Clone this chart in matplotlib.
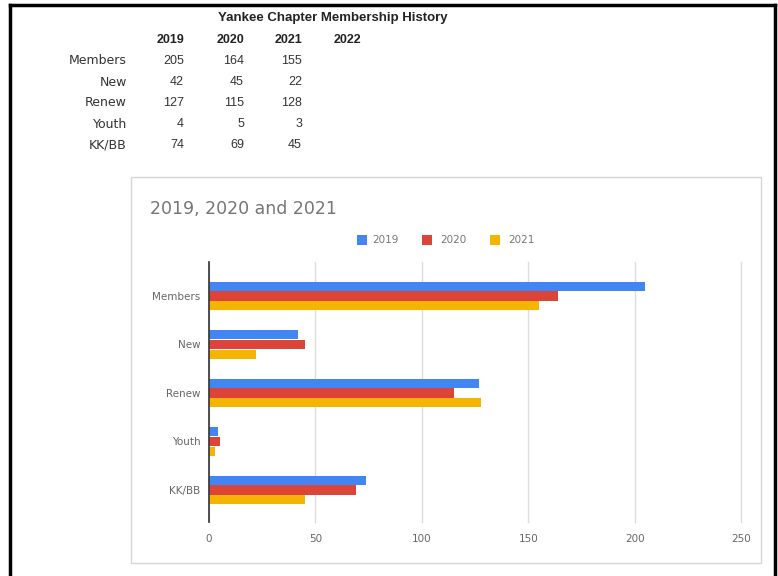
import matplotlib
matplotlib.use("Agg")
import matplotlib.pyplot as plt
from matplotlib.patches import Rectangle
from matplotlib.lines import Line2D
import numpy as np

categories = ["Members", "New", "Renew", "Youth", "KK/BB"]
years = ["2019", "2020", "2021"]
table_years = ["2019", "2020", "2021", "2022"]
v2019 = [205, 42, 127, 4, 74]
v2020 = [164, 45, 115, 5, 69]
v2021 = [155, 22, 128, 3, 45]
series = [v2019, v2020, v2021]
colors = ["#4285F4", "#DB4437", "#F4B400"]
xticks = [0, 50, 100, 150, 200, 250]

W, H = 778, 576
fig = plt.figure(figsize=(W / 100, H / 100), dpi=100)
fig.patch.set_facecolor("white")

def px(x, y):
    return x / W, 1 - y / H

# outer black border
fig.add_artist(Line2D([10 / W, 10 / W], [0, 1 - 5 / H], color="black", lw=2.5, transform=fig.transFigure))
fig.add_artist(Line2D([10 / W, 775 / W], [1 - 5 / H, 1 - 5 / H], color="black", lw=2.5, transform=fig.transFigure))
fig.add_artist(Line2D([775 / W, 775 / W], [0, 1 - 5 / H], color="black", lw=2.5, transform=fig.transFigure))

# table
tfont = "Liberation Sans"
fig.text(*px(333, 18), "Yankee Chapter Membership History", ha="center", va="center",
         fontsize=9.5, fontweight="bold", family=tfont, color="#222222")
col_x = [184, 244, 302, 361]
for cx, yr in zip(col_x, table_years):
    fig.text(*px(cx, 40), yr, ha="right", va="center", fontsize=9, fontweight="bold",
             family=tfont, color="#222222")
row_y = [61, 82, 103, 124, 145]
for ry, cat, i in zip(row_y, categories, range(len(categories))):
    fig.text(*px(127, ry), cat, ha="right", va="center", fontsize=9, family="DejaVu Sans", color="#333333")
    for cx, s in zip(col_x[:3], series):
        fig.text(*px(cx, ry), str(s[i]), ha="right", va="center", fontsize=9, family=tfont, color="#333333")

# chart box
box = Rectangle((131 / W, 1 - 563 / H), (761 - 131) / W, (563 - 177) / H,
                transform=fig.transFigure, facecolor="white", edgecolor="#d6d6d6", lw=1.0, zorder=-5)
fig.add_artist(box)

fig.text(*px(150, 209), "2019, 2020 and 2021", ha="left", va="center", fontsize=12.5,
         family="DejaVu Sans", color="#757575")

# legend
leg_items = [(357, 372), (422, 440), (490, 508)]
for (sx, tx), yr, c in zip(leg_items, years, colors):
    fig.add_artist(Rectangle((sx / W, 1 - 245 / H), 10 / W, 10 / H, transform=fig.transFigure,
                             facecolor=c, edgecolor="none"))
    fig.text(*px(tx, 240), yr, ha="left", va="center", fontsize=7.5, family="DejaVu Sans", color="#757575")

# axes
left, right, top, bottom = 209, 741, 262, 522
ax = fig.add_axes([left / W, 1 - bottom / H, (right - left) / W, (bottom - top) / H])
ax.set_zorder(5)
ax.set_facecolor("none")
y = np.arange(len(categories))
bh = 0.2
for k, (s, c) in enumerate(zip(series, colors)):
    ax.barh(y + (k - 1) * bh, s, height=bh * 0.95, color=c, zorder=3)
ax.set_xlim(0, 250)
ax.set_ylim(4.66, -0.70)
ax.set_yticks(y)
ax.set_yticklabels(categories, fontsize=7.5, family="DejaVu Sans", color="#666666")
ax.set_xticks(xticks)
ax.set_xticklabels([str(t) for t in xticks], fontsize=7.5, family="DejaVu Sans", color="#666666")
ax.tick_params(length=0, pad=6)
ax.tick_params(axis="x", pad=9)
for sp in ["top", "right", "bottom"]:
    ax.spines[sp].set_visible(False)
ax.spines["left"].set_color("#333333")
ax.spines["left"].set_linewidth(1.2)
ax.spines["left"].set_zorder(4)
ax.grid(axis="x", color="#dddddd", lw=1, zorder=0)
ax.set_axisbelow(True)
for gl in ax.get_xgridlines():
    gl.set_clip_on(False)

fig.savefig("out.png", dpi=100)
